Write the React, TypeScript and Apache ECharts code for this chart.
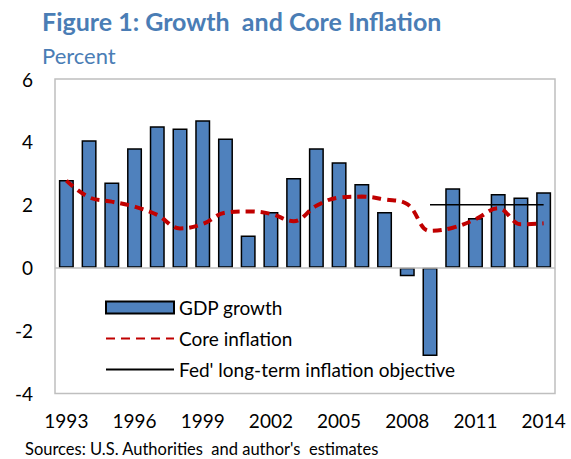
import React, { useEffect, useRef } from "react";
import * as echarts from "echarts";

const years = ["1993","1994","1995","1996","1997","1998","1999","2000","2001","2002","2003","2004","2005","2006","2007","2008","2009","2010","2011","2012","2013","2014"];
const gdpGrowth = [2.79, 4.05, 2.71, 3.80, 4.50, 4.43, 4.69, 4.11, 1.02, 1.77, 2.85, 3.80, 3.35, 2.66, 1.77, -0.27, -2.81, 2.53, 1.58, 2.34, 2.23, 2.40];
const coreInflation = [2.77, 2.24, 2.10, 1.94, 1.68, 1.25, 1.39, 1.75, 1.79, 1.71, 1.48, 1.97, 2.23, 2.26, 2.17, 2.02, 1.17, 1.27, 1.54, 1.89, 1.38, 1.41];
const fedObjective: (number | null)[] = [null, null, null, null, null, null, null, null, null, null, null, null, null, null, null, null, 2, 2, 2, 2, 2, 2];

const FONT = "Lato, 'Open Sans', sans-serif";
const BLUE_TEXT = "#4a7db5";

export default function App() {
  const ref = useRef<HTMLDivElement>(null);
  useEffect(() => {
    if (!ref.current) return;
    const chart = echarts.init(ref.current, null, { renderer: "svg" });
    chart.setOption({
      animation: false,
      backgroundColor: "#ffffff",
      textStyle: { fontFamily: FONT },
      title: [
        {
          text: "Figure 1: Growth  and Core Inflation",
          left: 37,
          top: 3,
          textStyle: { fontFamily: FONT, fontSize: 25, fontWeight: "bold", color: BLUE_TEXT },
        },
        {
          text: "Percent",
          left: 37,
          top: 39,
          textStyle: { fontFamily: FONT, fontSize: 22, fontWeight: "normal", color: BLUE_TEXT },
        },
      ],
      graphic: [
        {
          type: "text",
          left: 25,
          top: 440,
          style: { text: "Sources: U.S. Authorities  and author's  estimates", fontFamily: FONT, fontSize: 16.5, fill: "#000" },
        },
      ],
      legend: {
        orient: "vertical",
        left: 105,
        top: 298,
        padding: 0,
        itemWidth: 68,
        itemHeight: 12,
        itemGap: 12,
        textStyle: { fontFamily: FONT, fontSize: 19, color: "#000" },
        data: [
          { name: "GDP growth", icon: "rect" },
          { name: "Core inflation", itemStyle: { opacity: 0 } },
          { name: "Fed' long-term inflation objective", itemStyle: { opacity: 0 } },
        ],
      },
      grid: {
        left: 55,
        right: 16,
        top: 79,
        bottom: 65.5,
        show: true,
        borderColor: "#bfbfbf",
        borderWidth: 1.5,
      },
      xAxis: {
        type: "category",
        data: years,
        axisLine: { show: false, onZero: false },
        axisTick: { show: false },
        axisLabel: {
          interval: 2,
          fontFamily: FONT,
          fontSize: 19,
          color: "#000",
          margin: 17,
        },
        splitLine: { show: false },
      },
      yAxis: {
        type: "value",
        min: -4,
        max: 6,
        interval: 2,
        axisLine: { show: false },
        axisTick: { show: false },
        splitLine: { show: false },
        axisLabel: { fontFamily: FONT, fontSize: 19, color: "#000", margin: 22 },
      },
      series: [
        {
          name: "GDP growth",
          type: "bar",
          data: gdpGrowth,
          barWidth: 15,
          itemStyle: { color: "#4f81bd", borderColor: "#000", borderWidth: 1.5 },
          markLine: {
            silent: true,
            symbol: "none",
            label: { show: false },
            lineStyle: { color: "#bfbfbf", type: "solid", width: 1.5 },
            data: [{ yAxis: 0 }],
          },
          z: 2,
        },
        {
          name: "Core inflation",
          type: "line",
          data: coreInflation,
          smooth: 0.4,
          showSymbol: false,
          symbol: "none",
          lineStyle: { color: "#c00000", width: 4, type: [9, 6] },
          itemStyle: { color: "#c00000" },
          z: 4,
        },
        {
          name: "Fed' long-term inflation objective",
          type: "line",
          data: fedObjective,
          showSymbol: false,
          symbol: "none",
          lineStyle: { color: "#000", width: 1.5 },
          itemStyle: { color: "#000" },
          z: 3,
        },
      ],
    });
    return () => chart.dispose();
  }, []);
  return (
    <div
      ref={ref}
      style={{ position: "fixed", left: 0, top: 0, width: 571, height: 459 }}
    />
  );
}
